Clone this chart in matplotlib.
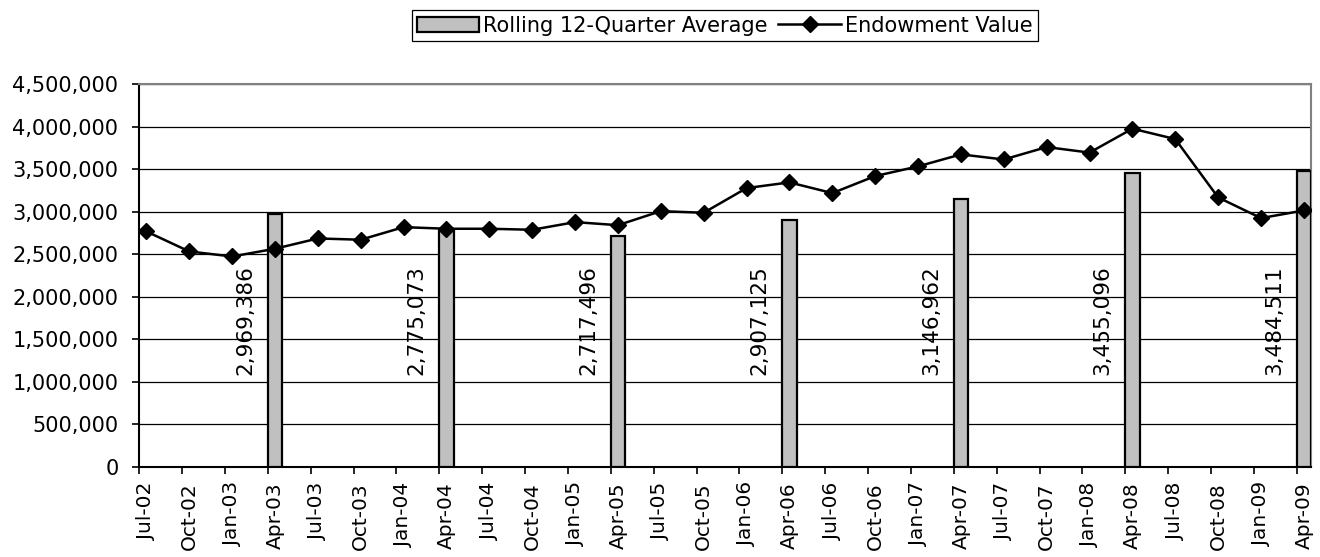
import numpy as np
import matplotlib.pyplot as plt
from matplotlib.lines import Line2D
import matplotlib.patches as mpatches
from matplotlib.ticker import FuncFormatter, MultipleLocator, FixedLocator, NullFormatter

# ── Data ──────────────────────────────────────────────────────────────
QUARTERS = ['Jul-02', 'Oct-02', 'Jan-03', 'Apr-03', 'Jul-03', 'Oct-03', 'Jan-04',
            'Apr-04', 'Jul-04', 'Oct-04', 'Jan-05', 'Apr-05', 'Jul-05', 'Oct-05',
            'Jan-06', 'Apr-06', 'Jul-06', 'Oct-06', 'Jan-07', 'Apr-07', 'Jul-07',
            'Oct-07', 'Jan-08', 'Apr-08', 'Jul-08', 'Oct-08', 'Jan-09', 'Apr-09']

ENDOWMENT = [2768000, 2533000, 2474000, 2565000, 2686000, 2671000, 2819000,
             2800000, 2800000, 2788000, 2878000, 2842000, 3007000, 2988000,
             3278000, 3345000, 3219000, 3419000, 3533000, 3674000, 3614000,
             3760000, 3695000, 3976000, 3854000, 3168000, 2925000, 3015000]

# rolling average is only reported for the April quarters
ROLLING_QTRS = ['Apr-03', 'Apr-04', 'Apr-05', 'Apr-06', 'Apr-07', 'Apr-08', 'Apr-09']
ROLLING_AVG = [2969386, 2775073, 2717496, 2907125, 3146962, 3455096, 3484511]

# ── Positions: date axis in months, quarter ticks every 3 months ──────
tick_x = np.arange(len(QUARTERS)) * 3
point_x = tick_x + 0.5          # centre of the first month of each quarter
bar_idx = [QUARTERS.index(q) for q in ROLLING_QTRS]
bar_x = point_x[bar_idx]

plt.rcParams['font.family'] = 'DejaVu Sans'

fig = plt.figure(figsize=(13.2, 5.57), dpi=100)
fig.patch.set_facecolor('white')
ax = fig.add_axes([0.1055, 0.1616, 0.8877, 0.6874])

# gridlines
ax.set_axisbelow(True)
ax.yaxis.grid(True, color='black', lw=0.9)

# bars
ax.bar(bar_x, ROLLING_AVG, width=1.0, color='#C0C0C0', edgecolor='black',
       linewidth=1.6, zorder=3, label='Rolling 12-Quarter Average')

# bar labels, rotated, left of each bar
for x, v in zip(bar_x, ROLLING_AVG):
    ax.text(x - 2.1, 1080000, f'{v:,}', rotation=90, ha='center', va='bottom',
            fontsize=15.5, color='black', zorder=4)

# line
ax.plot(point_x, ENDOWMENT, color='black', lw=1.8, marker='D', markersize=8.5,
        markerfacecolor='black', markeredgecolor='black', zorder=5,
        label='Endowment Value')

# axes
ax.set_xlim(0, tick_x[-1] + 1)
ax.set_ylim(0, 4500000)
ax.yaxis.set_major_locator(MultipleLocator(500000))
ax.yaxis.set_major_formatter(FuncFormatter(lambda v, p: f'{int(v):,}'))
# tick marks on quarter boundaries, labels centred on the plotted points
ax.xaxis.set_major_locator(FixedLocator(tick_x))
ax.xaxis.set_major_formatter(NullFormatter())
ax.xaxis.set_minor_locator(FixedLocator(point_x))
ax.set_xticklabels(QUARTERS, minor=True, rotation=90, fontsize=14.5)
ax.tick_params(axis='x', which='minor', length=0, pad=11)
ax.tick_params(axis='x', which='major', length=5, width=1.2, direction='out')
ax.tick_params(axis='y', labelsize=15, length=5, width=1.2, direction='out', pad=10)

for side in ['left', 'bottom']:
    ax.spines[side].set_color('black')
    ax.spines[side].set_linewidth(1.5)
for side in ['top', 'right']:
    ax.spines[side].set_color('#808080')
    ax.spines[side].set_linewidth(1.5)

# legend
handles = [
    mpatches.Patch(facecolor='#C0C0C0', edgecolor='black', linewidth=1.6,
                   label='Rolling 12-Quarter Average'),
    Line2D([0], [0], color='black', lw=1.8, marker='D', markersize=8.5,
           label='Endowment Value'),
]
leg = fig.legend(handles=handles, loc='center', bbox_to_anchor=(0.549, 0.954),
                 ncol=2, fontsize=15, frameon=True, fancybox=False,
                 edgecolor='black', framealpha=1, handlelength=3.0,
                 handletextpad=0.2, columnspacing=0.5, borderpad=0.25,
                 borderaxespad=0)
leg.get_frame().set_linewidth(0.9)

fig.savefig('out.png', dpi=100, facecolor='white')
